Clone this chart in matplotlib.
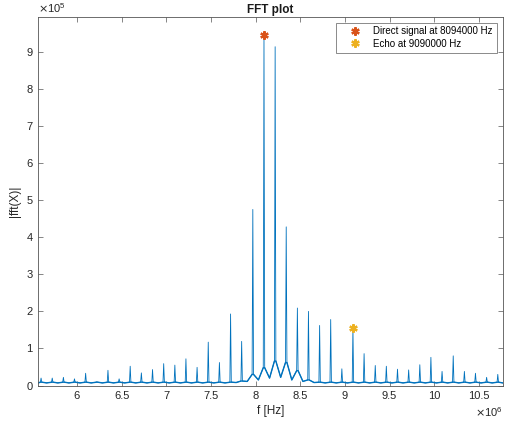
import numpy as np
import matplotlib.pyplot as plt
from matplotlib.ticker import FuncFormatter, MultipleLocator

plt.rcParams['font.family'] = ['Liberation Sans', 'DejaVu Sans']

# harmonic peak frequencies (MHz) and magnitudes (x1e5)
peak_mhz = [5.598, 5.723, 5.848, 5.972, 6.097, 6.222, 6.347, 6.472, 6.596, 6.721,
            6.846, 6.971, 7.096, 7.220, 7.345, 7.470, 7.595, 7.720, 7.844, 7.969,
            8.094, 8.219, 8.343, 8.468, 8.592, 8.717, 8.841, 8.966, 9.090, 9.215,
            9.340, 9.464, 9.589, 9.714, 9.839, 9.963, 10.088, 10.213, 10.338, 10.462,
            10.587, 10.712]
peak_mag = [0.20, 0.20, 0.22, 0.18, 0.33, 0.10, 0.41, 0.18, 0.52, 0.34,
            0.43, 0.59, 0.55, 0.72, 0.49, 1.17, 0.62, 1.93, 1.19, 4.75,
            9.46, 9.14, 4.28, 2.09, 2.00, 1.62, 1.78, 0.45, 1.55, 0.86,
            0.54, 0.52, 0.44, 0.42, 0.56, 0.76, 0.38, 0.80, 0.38, 0.33,
            0.22, 0.30]
# level at the foot of each peak (x1e5)
skirt_mag = [0.09] * 18 + [0.12, 0.30, 0.48, 0.66, 0.62, 0.40, 0.15] + [0.09] * 17
# noise floor halfway between neighbouring peaks (x1e5)
gap_mag = [0.07] * 17 + [0.08, 0.11, 0.15, 0.20, 0.22, 0.15, 0.11, 0.08] + [0.07] * 16
edge_mag = 0.07

direct_f, direct_mag = 8094000, 9.46
echo_f, echo_mag = 9090000, 1.55

xlim = (5.567e6, 10.767e6)
half = 8e3

# assemble the spectrum trace, plus the same trace with the spikes cut off
xs, ys, floor = [xlim[0]], [edge_mag], [edge_mag]
for i, f in enumerate(peak_mhz):
    f = f * 1e6
    xs += [f - half, f, f + half]
    ys += [skirt_mag[i], peak_mag[i], skirt_mag[i]]
    floor += [skirt_mag[i]] * 3
    if i < len(gap_mag):
        xs.append((f + peak_mhz[i + 1] * 1e6) / 2)
        ys.append(gap_mag[i])
        floor.append(gap_mag[i])
xs.append(xlim[1])
ys.append(edge_mag)
floor.append(edge_mag)
xs = np.array(xs)
ys = np.array(ys) * 1e5
floor = np.array(floor) * 1e5

fig = plt.figure(figsize=(5.06, 4.23), dpi=100)
ax = fig.add_axes([38.3 / 506, 1 - 385.5 / 423, (502.7 - 38.3) / 506, (385.5 - 16.7) / 423])

blue = '#0072BD'
ax.plot(xs, ys, color=blue, lw=0.6)
ax.plot(xs, floor, color=blue, lw=1.0)
ax.plot(direct_f, direct_mag * 1e5, ls='none', marker=(6, 2, 0), ms=6, mew=1.6,
        color='#D95319', label='Direct signal at %d Hz' % direct_f)
ax.plot(echo_f, echo_mag * 1e5, ls='none', marker=(6, 2, 0), ms=6, mew=1.6,
        color='#EDB120', label='Echo at %d Hz' % echo_f)

ax.set_xlim(*xlim)
ax.set_ylim(0, 9.95e5)
ax.xaxis.set_major_locator(MultipleLocator(0.5e6))
ax.yaxis.set_major_locator(MultipleLocator(1e5))
ax.xaxis.set_major_formatter(FuncFormatter(lambda v, p: '%g' % (v / 1e6)))
ax.yaxis.set_major_formatter(FuncFormatter(lambda v, p: '%g' % (v / 1e5)))

edge = '#262626'
for s in ax.spines.values():
    s.set_color('#555555')
    s.set_linewidth(0.6)
ax.tick_params(direction='in', top=True, right=True, length=3.5, width=0.5,
               color='#555555', labelcolor=edge, labelsize=8, pad=4)

ax.set_title('FFT plot', fontsize=8.5, fontweight='bold', color='#1a1a1a', pad=3)
ax.set_xlabel('f [Hz]', fontsize=8.5, color=edge, labelpad=3)
ax.set_ylabel('|fft(X)|', fontsize=8.5, color=edge, labelpad=4)
ax.text(0, 1.005, r'$\times\mathdefault{10^{5}}$', transform=ax.transAxes,
        fontsize=8, color=edge, ha='left', va='bottom')
ax.text(1, -0.072, r'$\times\mathdefault{10^{6}}$', transform=ax.transAxes,
        fontsize=8, color=edge, ha='right', va='center')

leg = ax.legend(loc='upper right', fontsize=7.0, frameon=True, fancybox=False,
                borderaxespad=0.6, handletextpad=0.25, borderpad=0.4,
                labelspacing=0.25, handlelength=3.2, numpoints=1)
leg.get_frame().set_edgecolor('#555555')
leg.get_frame().set_linewidth(0.6)

fig.savefig('out.png', dpi=100)
